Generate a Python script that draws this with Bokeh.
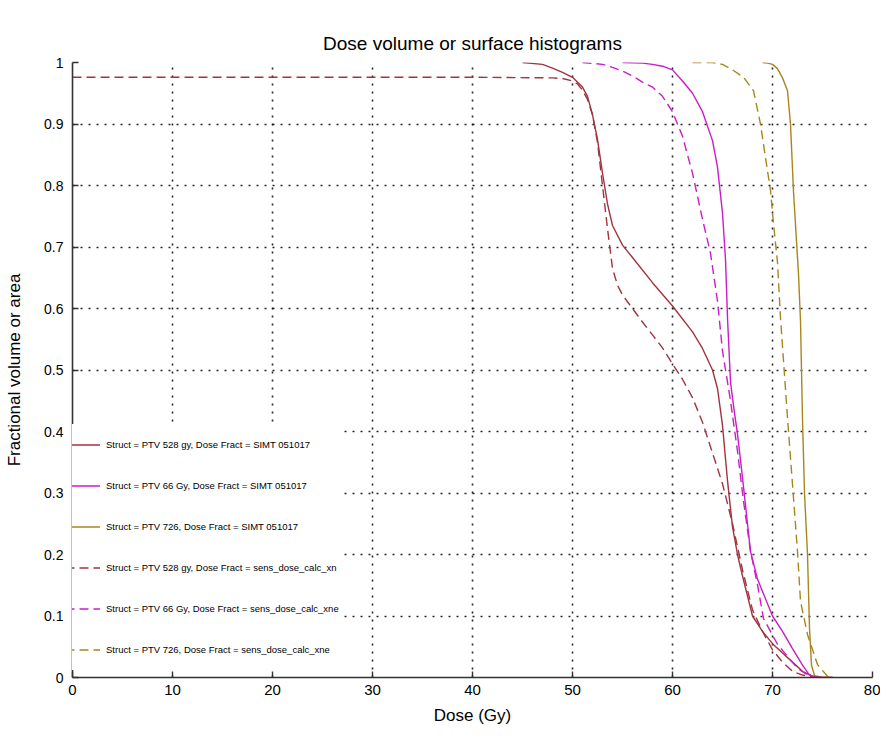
from bokeh.plotting import figure
from bokeh.models import Range1d, FixedTicker, Legend, LegendItem
from bokeh.embed import file_html
from bokeh.resources import INLINE

# ---------------- data ----------------
x_ticks = [0, 10, 20, 30, 40, 50, 60, 70, 80]
x_tick_labels = ["0", "10", "20", "30", "40", "50", "60", "70", "80"]
y_ticks = [0, 0.1, 0.2, 0.3, 0.4, 0.5, 0.6, 0.7, 0.8, 0.9, 1]
y_tick_labels = ["0", "0.1", "0.2", "0.3", "0.4", "0.5", "0.6", "0.7", "0.8", "0.9", "1"]

# PTV 528 gy, SIMT 051017 (solid)
dose_528_simt = [45, 47, 48, 49, 50, 51, 51.5, 52, 52.5, 53, 53.5, 54, 55, 56, 58, 60, 62, 63,
                 64, 64.5, 65, 65.5, 66, 66.5, 67, 68, 69, 70, 71, 72, 73, 74, 75, 76]
vol_528_simt = [1.0, 0.997, 0.991, 0.984, 0.976, 0.96, 0.945, 0.915, 0.875, 0.82, 0.77, 0.735,
                0.703, 0.683, 0.642, 0.604, 0.562, 0.535, 0.5, 0.47, 0.41, 0.32, 0.245, 0.2,
                0.165, 0.1, 0.075, 0.055, 0.04, 0.025, 0.01, 0.002, 0.0, 0.0]

# PTV 66 Gy, SIMT 051017 (solid)
dose_66_simt = [55, 57, 58, 59, 60, 61, 62, 63, 64, 64.5, 65, 65.3, 65.5, 65.8, 66.2, 66.5,
                67, 67.5, 67.8, 68.5, 69, 70, 71, 72, 73, 73.6, 74, 75, 76]
vol_66_simt = [1.0, 0.999, 0.997, 0.994, 0.988, 0.97, 0.95, 0.92, 0.873, 0.83, 0.755, 0.68,
               0.585, 0.48, 0.43, 0.396, 0.325, 0.25, 0.205, 0.16, 0.14, 0.1, 0.075, 0.047,
               0.02, 0.006, 0.002, 0.0, 0.0]

# PTV 726, SIMT 051017 (solid)
dose_726_simt = [69, 69.5, 70, 70.5, 71, 71.5, 71.8, 72.1, 72.6, 72.8, 73.0, 73.2, 73.5, 73.7,
                 73.9, 74.2, 75, 76]
vol_726_simt = [1.0, 0.999, 0.997, 0.99, 0.975, 0.954, 0.9, 0.79, 0.656, 0.58, 0.42, 0.3, 0.2,
                0.08, 0.02, 0.003, 0.0, 0.0]

# PTV 528 gy, sens_dose_calc (dashed)
dose_528_sens = [0, 10, 20, 30, 40, 48, 49, 50, 50.5, 51, 51.5, 52, 52.5, 53, 53.5, 54, 54.5,
                 55, 56, 57, 58, 59, 60, 61, 62, 63, 64, 65, 66, 67, 68, 69, 70, 71, 72, 73,
                 74, 75]
vol_528_sens = [0.976, 0.976, 0.976, 0.976, 0.976, 0.975, 0.974, 0.97, 0.965, 0.955, 0.94,
                0.915, 0.87, 0.80, 0.73, 0.665, 0.638, 0.622, 0.60, 0.578, 0.557, 0.536, 0.51,
                0.485, 0.455, 0.415, 0.365, 0.315, 0.25, 0.175, 0.11, 0.075, 0.045, 0.025,
                0.01, 0.004, 0.001, 0.0]

# PTV 66 Gy, sens_dose_calc (dashed)
dose_66_sens = [51, 53, 54, 55, 56, 57, 58, 59, 60, 61, 62, 63, 63.8, 64.5, 65, 65.8, 66.5,
                67.1, 67.8, 68.5, 69.1, 70.5, 72.5, 73.5, 74, 75]
vol_66_sens = [1.0, 0.997, 0.992, 0.986, 0.978, 0.968, 0.96, 0.945, 0.92, 0.88, 0.82, 0.745,
               0.69, 0.612, 0.531, 0.45, 0.368, 0.287, 0.205, 0.151, 0.096, 0.054, 0.015,
               0.004, 0.001, 0.0]

# PTV 726, sens_dose_calc (dashed)
dose_726_sens = [62, 64, 65, 66.1, 67.1, 68.1, 68.8, 69.3, 69.8, 70.1, 70.5, 70.8, 71.5, 72.0,
                 72.5, 72.8, 73.5, 74.5, 75.5, 76]
vol_726_sens = [1.0, 1.0, 0.997, 0.987, 0.976, 0.954, 0.90, 0.845, 0.792, 0.738, 0.675, 0.585,
                0.422, 0.314, 0.205, 0.124, 0.07, 0.021, 0.002, 0.0]

labels = [
    "Struct = PTV 528 gy, Dose Fract = SIMT 051017",
    "Struct = PTV 66 Gy, Dose Fract = SIMT 051017",
    "Struct = PTV 726, Dose Fract = SIMT 051017",
    "Struct = PTV 528 gy, Dose Fract = sens_dose_calc_xn",
    "Struct = PTV 66 Gy, Dose Fract = sens_dose_calc_xne",
    "Struct = PTV 726, Dose Fract = sens_dose_calc_xne",
]

RED = "#a03440"
MAG = "#c81ec8"
GOLD = "#a8861e"

series = [
    (dose_528_simt, vol_528_simt, RED, "solid"),
    (dose_66_simt, vol_66_simt, MAG, "solid"),
    (dose_726_simt, vol_726_simt, GOLD, "solid"),
    (dose_528_sens, vol_528_sens, RED, "9 5"),
    (dose_66_sens, vol_66_sens, MAG, "9 5"),
    (dose_726_sens, vol_726_sens, GOLD, "9 5"),
]

FONT = "Liberation Sans"

p = figure(width=880, height=748, output_backend="svg", toolbar_location=None,
           x_range=Range1d(0, 80), y_range=Range1d(0, 1),
           min_border_left=72, min_border_right=8, min_border_top=62, min_border_bottom=71,
           title="Dose volume or surface histograms")

p.title.align = "center"
p.title.text_font = FONT
p.title.text_font_size = "19px"
p.title.text_font_style = "normal"
p.title.text_color = "black"
p.title.standoff = 18

p.outline_line_color = None
p.background_fill_color = "white"
p.border_fill_color = "white"

p.xaxis.ticker = FixedTicker(ticks=x_ticks)
p.yaxis.ticker = FixedTicker(ticks=y_ticks)
p.xaxis.major_label_overrides = dict(zip(x_ticks, x_tick_labels))
p.yaxis.major_label_overrides = dict(zip(y_ticks, y_tick_labels))

for ax in (p.xaxis, p.yaxis):
    ax.axis_line_color = "#333333"
    ax.axis_line_width = 1.6
    ax.major_tick_line_color = "#333333"
    ax.major_tick_line_width = 1.4
    ax.major_tick_in = 6
    ax.major_tick_out = 0
    ax.minor_tick_line_color = None
    ax.major_label_text_font = FONT
    ax.major_label_text_color = "black"
    ax.axis_label_text_font = FONT
    ax.axis_label_text_font_size = "17px"
    ax.axis_label_text_font_style = "normal"
    ax.axis_label_text_color = "black"

p.xaxis.major_label_text_font_size = "15px"
p.yaxis.major_label_text_font_size = "14px"
p.xaxis.major_label_standoff = 7
p.yaxis.major_label_standoff = 9
p.xaxis.axis_label = "Dose (Gy)"
p.yaxis.axis_label = "Fractional volume or area"
p.xaxis.axis_label_standoff = 8
p.yaxis.axis_label_standoff = 17

for g in (p.xgrid, p.ygrid):
    g.grid_line_color = "black"
    g.grid_line_dash = "2 6"
    g.grid_line_width = 1.6
    g.grid_line_alpha = 0.85

renderers = []
for xs, ys, col, dash in series:
    r = p.line(xs, ys, line_color=col, line_width=1.4, line_dash=dash)
    renderers.append(r)

legend = Legend(
    items=[LegendItem(label=lab, renderers=[r]) for lab, r in zip(labels, renderers)],
    location=(-7, 7), orientation="vertical", margin=0, padding=7, spacing=0,
    label_height=41, glyph_height=41, glyph_width=35, label_standoff=6,
    label_text_font=FONT, label_text_font_size="9.5px", label_text_color="black",
    background_fill_color="white", background_fill_alpha=1.0,
    border_line_color=None,
)
p.add_layout(legend, "center")

open("out.html", "w").write(file_html(p, INLINE))
